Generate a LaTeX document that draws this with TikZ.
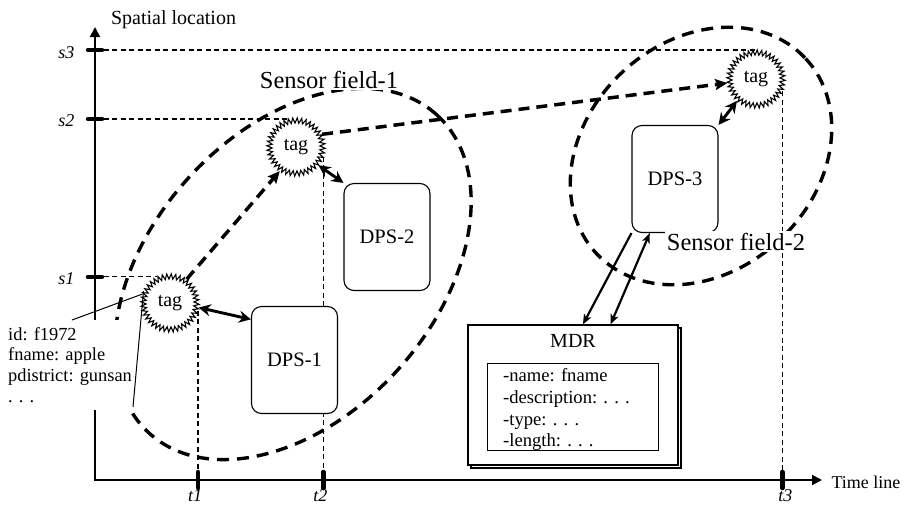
\documentclass[tikz,border=0pt]{standalone}
\usepackage{fontspec}
\setmainfont{Liberation Serif}
\usetikzlibrary{arrows.meta,decorations.pathmorphing,backgrounds,calc}

\begin{document}
\begin{tikzpicture}[x=1pt, y=-1pt,
  every node/.style={font=\fontsize{18.5}{21.7}\selectfont},
  axis/.style={line width=2pt, line join=miter,
    {Triangle[length=10pt,width=10pt]}-{Triangle[length=10pt,width=10pt]}},
  tick/.style={line width=4.5pt, line cap=round},
  guide/.style={line width=1.1pt, dash pattern=on 5pt off 3.5pt},
  field/.style={line width=3.4pt, dash pattern=on 12pt off 8pt},
  tagnode/.style={circle, draw, fill=white, line width=1.1pt,
    minimum size=53pt, inner sep=0pt, outer sep=2.5pt,
    decorate, decoration={zigzag, segment length=4.16pt, amplitude=2.6pt},
    font=\fontsize{20}{24}\selectfont},
  dps/.style={draw, fill=white, rounded corners=10pt, line width=1.1pt,
    minimum width=86pt, minimum height=107pt,
    font=\fontsize{20.5}{24}\selectfont},
  box/.style={draw, fill=white, line width=1.2pt, inner sep=0pt},
  link/.style={line width=2.9pt,
    {Stealth[length=12pt,width=12pt,inset=4pt]}-{Stealth[length=12pt,width=12pt,inset=4pt]}},
  hop/.style={line width=3.5pt, dash pattern=on 11pt off 7pt,
    -{Stealth[length=12pt,width=11pt,inset=2pt]}},
  feed/.style={line width=2.2pt},
  feedtip/.tip={Stealth[length=10pt,width=8pt,inset=2.5pt]},
  callout/.style={line width=1pt},
  fieldlabel/.style={fill=white, inner sep=2pt, font=\fontsize{24.5}{28}\selectfont},
  level/.style={font=\fontsize{18}{21}\selectfont\itshape}
]
\useasboundingbox (0,0) rectangle (913,504);

% tags and data processing stations
\node[tagnode] (tag1) at (170,303) {tag};
\node[tagnode] (tag2) at (296,147) {tag};
\node[tagnode] (tag3) at (756,79) {tag};
\node[dps] (dps1) at (294.5,360) {DPS-1};
\node[dps] (dps2) at (387,237) {DPS-2};
\node[dps] (dps3) at (675,179) {DPS-3};

% sensor field captions
\node[fieldlabel, anchor=base] (field1) at (329,88) {Sensor field-1};
\node[fieldlabel, anchor=base] (field2) at (736,250) {Sensor field-2};

% metadata registry
\node[box, minimum width=210pt, minimum height=140pt] (mdrshadow) at (576,398) {};
\node[box, minimum width=210pt, minimum height=140pt] (mdr) at (573,395) {};
\node[anchor=base, font=\fontsize{20}{24}\selectfont] (mdrtitle) at (573,347) {MDR};
\node[draw, line width=0.9pt, minimum width=171pt, minimum height=87pt, inner sep=0pt]
  (mdrfields) at (572.5,406.5) {};
\node[anchor=north west, align=left, inner sep=0pt, font=\fontsize{18.6}{21.7}\selectfont]
  (mdrtext) at (503,368.5) {-name: fname\\-description: . . .\\-type: . . .\\-length: . . .};

% tag contents
\node[anchor=north west, align=left, fill=white, inner xsep=2pt, inner ysep=7pt,
  font=\fontsize{18.4}{20.7}\selectfont] (info) at (6,320)
  {id: f1972\\fname: apple\\pdistrict: gunsan\\. . .};
\coordinate (calloutA) at (72,320);
\coordinate (calloutB) at (133,407);
\draw[callout] (tag1.162) -- (calloutA);
\draw[callout] (tag1.156) -- (calloutB);

% tag <-> station links
\draw[link] (tag1.-9) -- (dps1.137);
\draw[link] (tag2.-39) -- (dps2.north west);
\draw[link] (tag3.229) -- (dps3.north east);

% tag movement
\draw[hop] (tag1.55) -- (tag2.236);
\draw[hop] (tag2.26) -- (tag3.188);

% station <-> registry
\draw[feed, -feedtip] (dps3.south west) -- (mdr.82);
\draw[feed, feedtip-feedtip] (dps3.245) -- (mdr.62);

% axis captions
\node[anchor=base, font=\fontsize{20}{24}\selectfont] (ylabel) at (173.5,24) {Spatial location};
\node[anchor=base west, font=\fontsize{18}{22}\selectfont] (xlabel) at (828,488) {Time line};

\begin{scope}[on background layer]
  % sensor fields
  \draw[field, rotate around={48:(293,274)}] (293,274) ellipse [x radius=214.5, y radius=142];
  \draw[field, rotate around={43:(701,156)}] (701,156) ellipse [x radius=143, y radius=115];

  % axes
  \coordinate (o) at (95,480);
  \coordinate (ytip) at (95,27);
  \coordinate (xtip) at (822,480);
  \draw[axis] (ytip) -- (o) -- (xtip);

  % location levels and time instants
  \coordinate (s1) at (tag1.116 -| o);
  \coordinate (s2) at (tag2.105 -| o);
  \coordinate (s3) at (tag3.north -| o);
  \coordinate (t1) at (tag1.-15 |- o);
  \coordinate (t2) at (tag2.-20 |- o);
  \coordinate (t3) at (tag3.-25 |- o);
  \draw[guide] (s1) -- (tag1.116);
  \draw[guide] (s2) -- (tag2.105);
  \draw[guide] (s3) -- (tag3.north);
  \draw[guide] (tag1.-15) -- (t1);
  \draw[guide] (tag2.-20) -- (t2);
  \draw[guide] (tag3.-25) -- (t3);
  \foreach \s in {s1,s2,s3} {
    \draw[tick] ([xshift=-7pt]\s) -- ([xshift=7pt]\s);
  }
  \foreach \t in {t1,t2,t3} {
    \draw[tick] ([yshift=-8pt]\t) -- ([yshift=8pt]\t);
  }
\end{scope}

\node[level, anchor=base east] (s1label) at ([xshift=-17pt,yshift=-8pt]s1) {s1};
\node[level, anchor=base east] (s2label) at ([xshift=-17pt,yshift=-8pt]s2) {s2};
\node[level, anchor=base east] (s3label) at ([xshift=-17pt,yshift=-8pt]s3) {s3};
\node[level, anchor=base] (t1label) at ([xshift=-3pt,yshift=-21pt]t1) {t1};
\node[level, anchor=base] (t2label) at ([xshift=-3pt,yshift=-21pt]t2) {t2};
\node[level, anchor=base] (t3label) at ([xshift=3pt,yshift=-21pt]t3) {t3};
\end{tikzpicture}
\end{document}
